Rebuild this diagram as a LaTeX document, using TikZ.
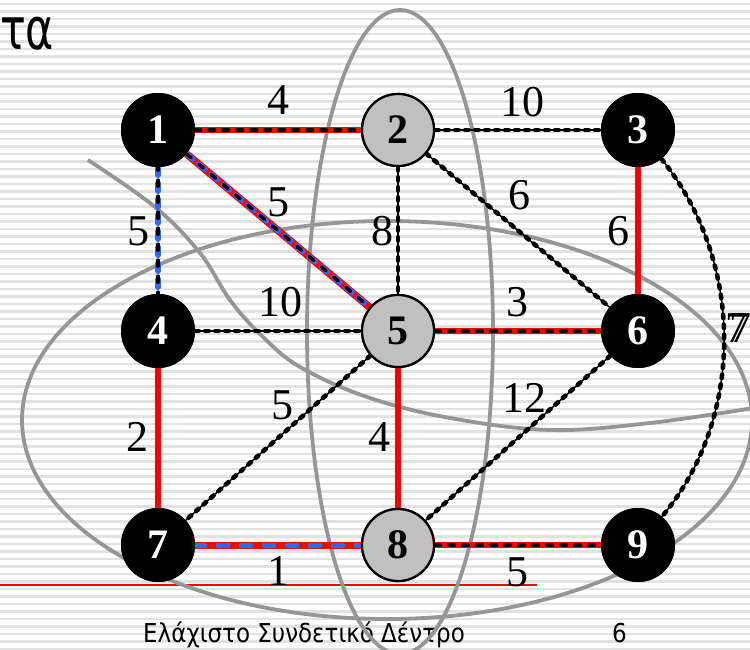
\documentclass[tikz,border=0pt]{standalone}
\usepackage{fontspec}
\setmainfont{Liberation Serif}
\newfontfamily\sansgr{DejaVu Sans}
\definecolor{silvergray}{RGB}{192,192,192}
\definecolor{curvegray}{RGB}{150,150,150}
\definecolor{stripegray}{RGB}{226,226,226}
\definecolor{blueedge}{RGB}{51,102,255}
\newcommand\mynodefont{\fontsize{42}{42}\selectfont\bfseries}
\newcommand\mylabfont{\fontsize{44}{44}\selectfont}
\tikzset{
  stripe/.style={draw=stripegray, line width=2.2pt},
  gcurve/.style={draw=curvegray, line width=3.8pt},
  bnode/.style={circle, fill=black, minimum size=74pt, inner sep=0pt, text=white, font=\mynodefont},
  gnode/.style={circle, fill=silvergray, draw=black, line width=2.2pt, minimum size=72pt, inner sep=0pt, text=black, font=\mynodefont},
  elabel/.style={font=\mylabfont, inner sep=0pt},
  thinblack/.style={draw=black, line width=1.5pt},
  beads/.style={draw=black, line width=4.6pt, dash pattern=on 3.5pt off 6.5pt, line cap=round},
  redline/.style={draw=red, line width=6.5pt},
  reddash/.style={draw=black, line width=4.2pt, dash pattern=on 5pt off 9pt, line cap=round},
  bluedash/.style={draw=blueedge, line width=5.5pt, dash pattern=on 8pt off 8pt, line cap=round},
  blackdash/.style={draw=black, line width=3.5pt, dash pattern=on 6pt off 10pt, line cap=round},
  bluedots/.style={draw=blueedge, line width=5pt, dash pattern=on 10pt off 13pt, line cap=round},
}
\begin{document}
\begin{tikzpicture}[x=1pt, y=-1pt]
\useasboundingbox (0,0) rectangle (750,650);
\clip (0,0) rectangle (750,650);
\fill[white] (0,0) rectangle (750,650);
% background stripes
\foreach \i in {0,...,86} {
  \draw[stripe] (0,{4+7.5*\i}) -- (750,{4+7.5*\i});
}
% title and footer
\node[anchor=base west, inner sep=0pt, xscale=0.74, font=\sansgr\fontsize{58}{58}\selectfont] (title) at (0,50) {τα};
\draw[red, line width=1.2pt] (0,585) -- (537,585);
\node[anchor=base west, inner sep=0pt, xscale=0.885, font=\sansgr\fontsize{26}{26}\selectfont] (foot) at (143,642) {Ελάχιστο Συνδετικό Δέντρο};
\node[anchor=base west, inner sep=0pt, xscale=0.885, font=\sansgr\fontsize{26}{26}\selectfont] (page) at (612,642) {6};
% gray curves
\draw[gcurve] (387,420) ellipse [x radius=365, y radius=199];
\draw[gcurve] (400,332) ellipse [x radius=93, y radius=322];
\draw[gcurve] plot[smooth, tension=0.6] coordinates {(88,160) (155,207) (200,253) (230,300) (262,336) (300,367) (367,397) (450,418) (550,430) (650,423) (760,407)};
% nodes (positions)
\node[bnode] (n1) at (158,130) {1};
\node[gnode] (n2) at (398,130) {2};
\node[bnode] (n3) at (638,130) {3};
\node[bnode] (n4) at (158,331) {4};
\node[gnode] (n5) at (398,331) {5};
\node[bnode] (n6) at (638,331) {6};
\node[bnode] (n7) at (158,545) {7};
\node[gnode] (n8) at (398,545) {8};
\node[bnode] (n9) at (638,545) {9};
% plain dashed edges
\foreach \a/\b in {n2/n3, n2/n5, n2/n6, n4/n5, n5/n7, n6/n8} {
  \draw[thinblack] (\a) -- (\b);
  \draw[beads] (\a) -- (\b);
}
\draw[thinblack] (n3) .. controls (745,262) and (745,418) .. (n9);
\draw[beads] (n3) .. controls (745,262) and (745,418) .. (n9);
% red solid edges
\draw[redline] (n3) -- (n6);
\draw[redline] (n4) -- (n7);
\draw[redline] (n5) -- (n8);
% red + black dashes
\foreach \a/\b in {n1/n2, n5/n6, n8/n9} {
  \draw[redline] (\a) -- (\b);
  \draw[reddash] (\a) -- (\b);
}
% 1-5 red + blue + black
\draw[redline, line width=7.5pt] (n1) -- (n5);
\draw[bluedash] (n1) -- (n5);
\draw[blackdash] (n1) -- (n5);
% 1-4 blue + black
\draw[bluedash] (n1) -- (n4);
\draw[blackdash, dash phase=3pt] (n1) -- (n4);
% 7-8 red + blue
\draw[redline, line width=7pt] (n7) -- (n8);
\draw[bluedots] (n7) -- (n8);
% redraw nodes on top of the edges
\node[bnode] at (n1) {1};
\node[gnode] at (n2) {2};
\node[bnode] at (n3) {3};
\node[bnode] at (n4) {4};
\node[gnode] at (n5) {5};
\node[bnode] at (n6) {6};
\node[bnode] at (n7) {7};
\node[gnode] at (n8) {8};
\node[bnode] at (n9) {9};
% edge labels
\node[elabel] (l12) at (278,100) {4};
\node[elabel] (l23) at (522,102) {10};
\node[elabel] (l14) at (138,231) {5};
\node[elabel] (l15) at (278,202) {5};
\node[elabel] (l25) at (382,231) {8};
\node[elabel] (l26) at (519,195) {6};
\node[elabel] (l36) at (618,231) {6};
\node[elabel] (l45) at (280,302) {10};
\node[elabel] (l56) at (517,302) {3};
\node[elabel] (l39) at (738,328) {\rlap{7}\kern4pt 7};
\node[elabel] (l47) at (137,437) {2};
\node[elabel] (l57) at (282,405) {5};
\node[elabel] (l58) at (379,437) {4};
\node[elabel] (l68) at (524,398) {12};
\node[elabel] (l78) at (278,571) {1};
\node[elabel] (l89) at (517,572) {5};
\end{tikzpicture}
\end{document}
